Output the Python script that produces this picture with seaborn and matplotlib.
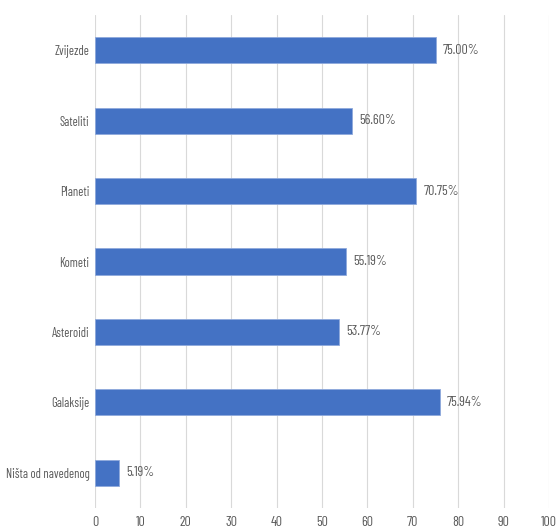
import pandas as pd
import seaborn as sns
import matplotlib.pyplot as plt

categories = ["Zvijezde", "Sateliti", "Planeti", "Kometi", "Asteroidi", "Galaksije", "Ništa od navedenog"]
values = [75.00, 56.60, 70.75, 55.19, 53.77, 75.94, 5.19]
x_ticks = [0, 10, 20, 30, 40, 50, 60, 70, 80, 90, 100]

df = pd.DataFrame({"kategorija": categories, "postotak": values})

sns.set_style("white")
plt.rcParams['font.family'] = ['Barlow Condensed', 'DejaVu Sans']

fig = plt.figure(figsize=(5.56, 5.31), dpi=100)
ax = fig.add_axes([95 / 556, 1 - 508 / 531, 454 / 556, 493 / 531])

sns.barplot(data=df, y="kategorija", x="postotak", color="#4472C4", saturation=1, width=0.37,
            edgecolor="#8fa9dc", linewidth=0.6, ax=ax, zorder=3)

for i, v in enumerate(values):
    ax.text(v + 1.6, i, f"{v:.2f}%", va="center", ha="left", fontsize=10, color="#595959")

ax.set_xlim(0, 100)
ax.set_xticks(x_ticks)
ax.set_xlabel("")
ax.set_ylabel("")
ax.grid(axis="x", color="#d9d9d9", linewidth=0.8, zorder=0)
ax.set_axisbelow(True)
for s in ax.spines.values():
    s.set_visible(False)
ax.tick_params(axis="both", length=0, labelsize=10, labelcolor="#595959")
ax.tick_params(axis="x", pad=6)
ax.tick_params(axis="y", pad=4, labelsize=9)

fig.savefig("out.png", dpi=100)
